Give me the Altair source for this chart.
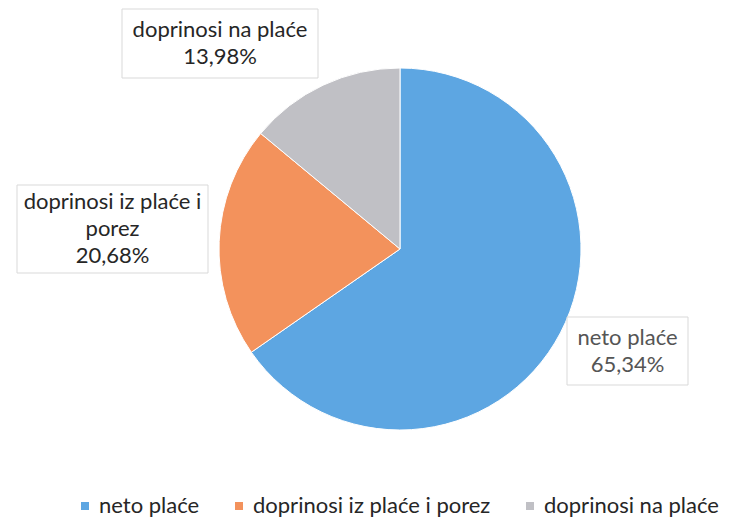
import altair as alt
import pandas as pd

# ---- data ----
categories = ["neto plaće", "doprinosi iz plaće i porez", "doprinosi na plaće"]
values = [65.34, 20.68, 13.98]
label_lines = ["neto plaće", "doprinosi iz plaće i\nporez", "doprinosi na plaće"]

# ---- styles / layout ----
colors = ["#5DA6E2", "#F3925C", "#C0C0C5"]
label_colors = ["#555555", "#262626", "#262626"]
cx, cy, R = 392, 241, 181
LINE_H = 27
label_boxes = {  # x0, y0, x1, y1 in view pixels (annotation layout)
    "neto plaće": (559, 309, 680, 377),
    "doprinosi iz plaće i porez": (9, 177, 200, 265),
    "doprinosi na plaće": (114, 1, 310, 70),
}
FONT = "Lato"

df = pd.DataFrame({"cat": categories, "val": values, "order": list(range(len(categories)))})

lab = pd.DataFrame({
    "cat": categories,
    "text": [f"{l}\n{v:.2f}".replace(".", ",") + "%" for l, v in zip(label_lines, values)],
    "tcolor": label_colors,
})
lab["x0"] = [label_boxes[c][0] for c in categories]
lab["y0"] = [label_boxes[c][1] for c in categories]
lab["x1"] = [label_boxes[c][2] for c in categories]
lab["y1"] = [label_boxes[c][3] for c in categories]
nlines = lab["text"].str.count("\n") + 1
lab["xc"] = (lab.x0 + lab.x1) / 2
lab["yc"] = (lab.y0 + lab.y1) / 2 - (nlines - 1) * LINE_H / 2

color = alt.Color(
    "cat:N",
    scale=alt.Scale(domain=categories, range=colors),
    sort=categories,
    legend=alt.Legend(
        title=None,
        orient="none",
        direction="horizontal",
        legendX=66,
        legendY=487,
        symbolType="square",
        symbolSize=64,
        symbolStrokeWidth=0,
        labelFont=FONT,
        labelFontSize=22,
        labelColor="#262626",
        labelLimit=400,
        columnPadding=28,
        labelOffset=3,
    ),
)

pie = alt.Chart(df).mark_arc(outerRadius=R, stroke="white", strokeWidth=1).encode(
    theta=alt.Theta("val:Q", stack=True),
    order=alt.Order("order:Q"),
    color=color,
    x=alt.value(cx),
    y=alt.value(cy),
)

boxes = alt.Chart(lab).mark_rect(fill="white", stroke="#D9D9D9", strokeWidth=1).encode(
    x=alt.X("x0:Q", scale=None),
    x2="x1:Q",
    y=alt.Y("y0:Q", scale=None),
    y2="y1:Q",
)

texts = alt.Chart(lab).mark_text(
    font=FONT, fontSize=22, lineBreak="\n", lineHeight=LINE_H,
    align="center", baseline="middle",
).encode(
    x=alt.X("xc:Q", scale=None),
    y=alt.Y("yc:Q", scale=None),
    text="text:N",
    color=alt.Color("tcolor:N", scale=None),
)

chart = alt.layer(pie, boxes, texts).properties(
    width=716, height=511, padding=0, autosize="none", background="white"
).configure_view(strokeWidth=0, stroke="transparent")

chart.save("out.html", embed_options={"renderer": "svg", "actions": False})
